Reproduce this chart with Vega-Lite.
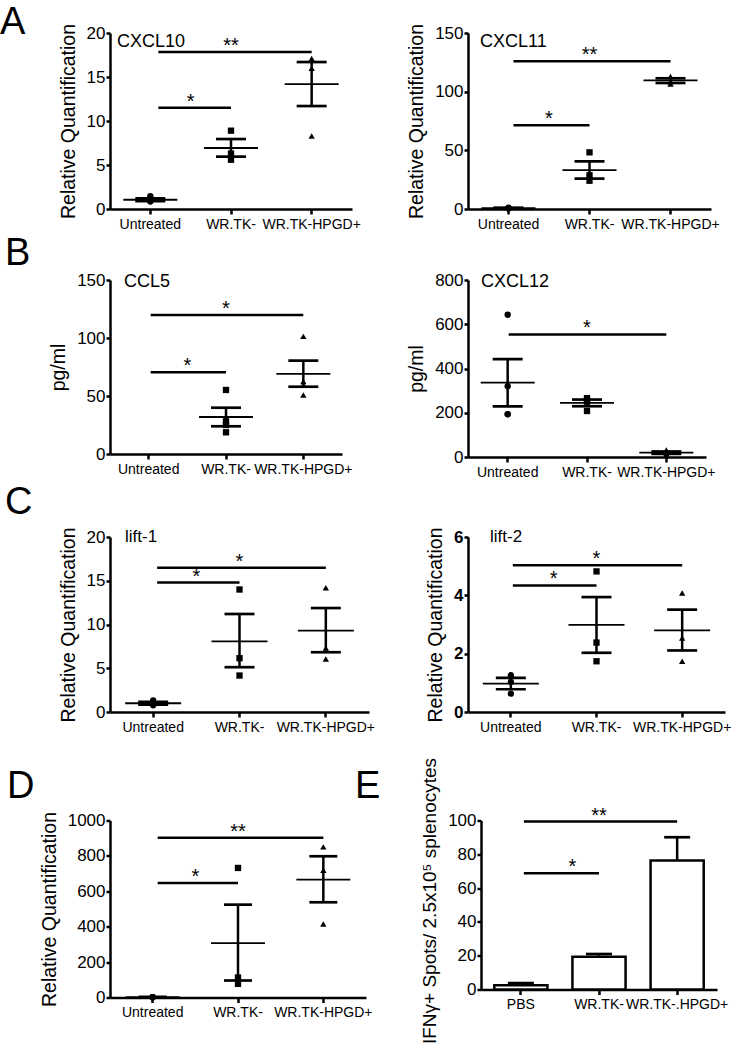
{
"$schema": "https://vega.github.io/schema/vega-lite/v6.json",
"background": "white",
"padding": {"left": 0, "top": 3, "right": 0, "bottom": 0},
"spacing": 22.5,
"datasets": {
"pts": [
{"panel":"CXCL10","grp":"Untreated","value":1.45},{"panel":"CXCL10","grp":"Untreated","value":0.85},{"panel":"CXCL10","grp":"Untreated","value":0.9},
{"panel":"CXCL10","grp":"WR.TK-","value":8.9},{"panel":"CXCL10","grp":"WR.TK-","value":6.3},{"panel":"CXCL10","grp":"WR.TK-","value":5.6},
{"panel":"CXCL10","grp":"WR.TK-HPGD+","value":17.1},{"panel":"CXCL10","grp":"WR.TK-HPGD+","value":16.0},{"panel":"CXCL10","grp":"WR.TK-HPGD+","value":8.3},
{"panel":"CXCL11","grp":"Untreated","value":1.2},{"panel":"CXCL11","grp":"Untreated","value":0.4},{"panel":"CXCL11","grp":"Untreated","value":0.8},
{"panel":"CXCL11","grp":"WR.TK-","value":48.3},{"panel":"CXCL11","grp":"WR.TK-","value":28.7},{"panel":"CXCL11","grp":"WR.TK-","value":24.1},
{"panel":"CXCL11","grp":"WR.TK-HPGD+","value":113},{"panel":"CXCL11","grp":"WR.TK-HPGD+","value":106.5},{"panel":"CXCL11","grp":"WR.TK-HPGD+","value":108.5},
{"panel":"CCL5","grp":"WR.TK-","value":55.2},{"panel":"CCL5","grp":"WR.TK-","value":28.2},{"panel":"CCL5","grp":"WR.TK-","value":25.0},{"panel":"CCL5","grp":"WR.TK-","value":18.7},
{"panel":"CCL5","grp":"WR.TK-HPGD+","value":101.4},{"panel":"CCL5","grp":"WR.TK-HPGD+","value":62.4},{"panel":"CCL5","grp":"WR.TK-HPGD+","value":59.5},{"panel":"CCL5","grp":"WR.TK-HPGD+","value":50.9},
{"panel":"CXCL12","grp":"Untreated","value":643},{"panel":"CXCL12","grp":"Untreated","value":320},{"panel":"CXCL12","grp":"Untreated","value":193},{"panel":"CXCL12","grp":"Untreated","value":194},
{"panel":"CXCL12","grp":"WR.TK-","value":266},{"panel":"CXCL12","grp":"WR.TK-","value":254},{"panel":"CXCL12","grp":"WR.TK-","value":208},{"panel":"CXCL12","grp":"WR.TK-","value":250},
{"panel":"CXCL12","grp":"WR.TK-HPGD+","value":16},{"panel":"CXCL12","grp":"WR.TK-HPGD+","value":8},{"panel":"CXCL12","grp":"WR.TK-HPGD+","value":32},{"panel":"CXCL12","grp":"WR.TK-HPGD+","value":22},
{"panel":"lift1","grp":"Untreated","value":1.33},{"panel":"lift1","grp":"Untreated","value":0.76},{"panel":"lift1","grp":"Untreated","value":0.95},
{"panel":"lift1","grp":"WR.TK-","value":14.0},{"panel":"lift1","grp":"WR.TK-","value":6.15},{"panel":"lift1","grp":"WR.TK-","value":4.17},
{"panel":"lift1","grp":"WR.TK-HPGD+","value":14.2},{"panel":"lift1","grp":"WR.TK-HPGD+","value":7.3},{"panel":"lift1","grp":"WR.TK-HPGD+","value":6.07},
{"panel":"lift2","grp":"Untreated","value":1.26},{"panel":"lift2","grp":"Untreated","value":1.03},{"panel":"lift2","grp":"Untreated","value":0.63},
{"panel":"lift2","grp":"WR.TK-","value":4.82},{"panel":"lift2","grp":"WR.TK-","value":2.38},{"panel":"lift2","grp":"WR.TK-","value":1.74},
{"panel":"lift2","grp":"WR.TK-HPGD+","value":4.08},{"panel":"lift2","grp":"WR.TK-HPGD+","value":2.54},{"panel":"lift2","grp":"WR.TK-HPGD+","value":1.74},
{"panel":"D","grp":"Untreated","value":2},{"panel":"D","grp":"Untreated","value":1.5},{"panel":"D","grp":"Untreated","value":2.5},
{"panel":"D","grp":"WR.TK-","value":732},{"panel":"D","grp":"WR.TK-","value":113},{"panel":"D","grp":"WR.TK-","value":77},
{"panel":"D","grp":"WR.TK-HPGD+","value":851},{"panel":"D","grp":"WR.TK-HPGD+","value":719},{"panel":"D","grp":"WR.TK-HPGD+","value":415}
],
"sum": [
{"panel":"CXCL10","grp":"Untreated","mean":1.05,"lo":0.9,"hi":1.2},{"panel":"CXCL10","grp":"WR.TK-","mean":6.93,"lo":5.95,"hi":7.95},{"panel":"CXCL10","grp":"WR.TK-HPGD+","mean":14.2,"lo":11.7,"hi":16.7},
{"panel":"CXCL11","grp":"Untreated","mean":0.8,"lo":0.4,"hi":1.1},{"panel":"CXCL11","grp":"WR.TK-","mean":33.2,"lo":25.9,"hi":40.6},{"panel":"CXCL11","grp":"WR.TK-HPGD+","mean":109.7,"lo":107.4,"hi":111.4},
{"panel":"CCL5","grp":"WR.TK-","mean":31.9,"lo":23.9,"hi":39.9},{"panel":"CCL5","grp":"WR.TK-HPGD+","mean":69.0,"lo":58.0,"hi":80.5},
{"panel":"CXCL12","grp":"Untreated","mean":336.6,"lo":229,"hi":442},{"panel":"CXCL12","grp":"WR.TK-","mean":244.5,"lo":229.4,"hi":259.6},{"panel":"CXCL12","grp":"WR.TK-HPGD+","mean":19.6,"lo":14,"hi":25},
{"panel":"lift1","grp":"Untreated","mean":1.0,"lo":0.85,"hi":1.15},{"panel":"lift1","grp":"WR.TK-","mean":8.08,"lo":5.12,"hi":11.2},{"panel":"lift1","grp":"WR.TK-HPGD+","mean":9.3,"lo":6.83,"hi":11.88},
{"panel":"lift2","grp":"Untreated","mean":0.97,"lo":0.78,"hi":1.17},{"panel":"lift2","grp":"WR.TK-","mean":2.99,"lo":2.03,"hi":3.94},{"panel":"lift2","grp":"WR.TK-HPGD+","mean":2.8,"lo":2.11,"hi":3.51},
{"panel":"D","grp":"Untreated","mean":2,"lo":1,"hi":3},{"panel":"D","grp":"WR.TK-","mean":307.5,"lo":96,"hi":524.5},{"panel":"D","grp":"WR.TK-HPGD+","mean":666,"lo":538,"hi":798}
],
"sig": [
{"panel":"CXCL10","from":"Untreated","to":"WR.TK-","y":11.5,"label":"*"},{"panel":"CXCL10","from":"Untreated","to":"WR.TK-HPGD+","y":17.85,"label":"**"},
{"panel":"CXCL11","from":"Untreated","to":"WR.TK-","y":71.3,"label":"*"},{"panel":"CXCL11","from":"Untreated","to":"WR.TK-HPGD+","y":125.9,"label":"**"},
{"panel":"CCL5","from":"Untreated","to":"WR.TK-","y":70.4,"label":"*"},{"panel":"CCL5","from":"Untreated","to":"WR.TK-HPGD+","y":119.8,"label":"*"},
{"panel":"CXCL12","from":"Untreated","to":"WR.TK-HPGD+","y":554,"label":"*"},
{"panel":"lift1","from":"Untreated","to":"WR.TK-","y":14.8,"label":"*"},{"panel":"lift1","from":"Untreated","to":"WR.TK-HPGD+","y":16.5,"label":"*"},
{"panel":"lift2","from":"Untreated","to":"WR.TK-","y":4.34,"label":"*"},{"panel":"lift2","from":"Untreated","to":"WR.TK-HPGD+","y":5.03,"label":"*"},
{"panel":"D","from":"Untreated","to":"WR.TK-","y":647,"label":"*"},{"panel":"D","from":"Untreated","to":"WR.TK-HPGD+","y":902,"label":"**"},
{"panel":"E","from":"PBS","to":"WR.TK-","y":68.8,"label":"*"},{"panel":"E","from":"PBS","to":"WR.TK-.HPGD+","y":99.4,"label":"**"}
],
"bars": [
{"grp":"PBS","value":2.5,"err":3.8},{"grp":"WR.TK-","value":19.4,"err":21},{"grp":"WR.TK-.HPGD+","value":76.3,"err":90.1}
],
"genes": [
{"panel":"CXCL10","label":"CXCL10"},{"panel":"CXCL11","label":"CXCL11"},{"panel":"CCL5","label":"CCL5"},{"panel":"CXCL12","label":"CXCL12"},{"panel":"lift1","label":"lift-1"},{"panel":"lift2","label":"lift-2"}
]
},
"vconcat": [
{"spacing": 4, "vconcat": [
{"title":{"text":"A","dx":-110,"offset":-18.5},"bounds":"flush","spacing":116,"hconcat":[
{"width":242,"height":176,"layer":[
{"data":{"name":"sig"},"transform":[{"filter":"datum.panel==='CXCL10'"}],"mark":{"type":"rule","color":"black","strokeWidth":2.5,"xOffset":8},"encoding":{"x":{"field":"from","type":"nominal","scale":{"type":"band","domain":["Untreated","WR.TK-","WR.TK-HPGD+"],"paddingInner":0,"paddingOuter":0},"axis":{"title":null}},"x2":{"field":"to"},"y":{"field":"y","type":"quantitative","scale":{"domain":[0,20],"nice":false},"axis":{"title":"Relative Quantification","values":[0,5,10,15,20],"tickCount":20,"format":"d","labelOverlap":false}}}},
{"data":{"name":"sig"},"transform":[{"filter":"datum.panel==='CXCL10' && datum.to==='WR.TK-'"}],"mark":{"type":"text","fontSize":20,"dy":0,"baseline":"alphabetic"},"encoding":{"x":{"field":"to","type":"nominal","bandPosition":0},"y":{"field":"y","type":"quantitative"},"text":{"field":"label"}}},
{"data":{"name":"sig"},"transform":[{"filter":"datum.panel==='CXCL10' && datum.to!=='WR.TK-'"}],"mark":{"type":"text","fontSize":20,"dy":0,"baseline":"alphabetic"},"encoding":{"x":{"datum":"WR.TK-","type":"nominal"},"y":{"field":"y","type":"quantitative"},"text":{"field":"label"}}},
{"data":{"name":"pts"},"transform":[{"filter":"datum.panel==='CXCL10'"}],"mark":{"type":"point","filled":true,"opacity":1,"color":"black","size":40},"encoding":{"x":{"field":"grp","type":"nominal"},"y":{"field":"value","type":"quantitative"},"shape":{"field":"grp","type":"nominal","scale":{"domain":["Untreated","WR.TK-","WR.TK-HPGD+"],"range":["circle","square","triangle-up"]},"legend":null}}},
{"data":{"name":"sum"},"transform":[{"filter":"datum.panel==='CXCL10'"}],"mark":{"type":"tick","color":"black","size":54,"thickness":1.8,"opacity":1},"encoding":{"x":{"field":"grp","type":"nominal"},"y":{"field":"mean","type":"quantitative"}}},
{"data":{"name":"sum"},"transform":[{"filter":"datum.panel==='CXCL10'"}],"mark":{"type":"rule","color":"black","strokeWidth":2.5},"encoding":{"x":{"field":"grp","type":"nominal"},"y":{"field":"lo","type":"quantitative"},"y2":{"field":"hi"}}},
{"data":{"name":"sum"},"transform":[{"filter":"datum.panel==='CXCL10'"}],"mark":{"type":"tick","color":"black","size":30,"thickness":2.7,"opacity":1},"encoding":{"x":{"field":"grp","type":"nominal"},"y":{"field":"lo","type":"quantitative"}}},
{"data":{"name":"sum"},"transform":[{"filter":"datum.panel==='CXCL10'"}],"mark":{"type":"tick","color":"black","size":30,"thickness":2.7,"opacity":1},"encoding":{"x":{"field":"grp","type":"nominal"},"y":{"field":"hi","type":"quantitative"}}},
{"data":{"name":"genes"},"transform":[{"filter":"datum.panel==='CXCL10'"}],"mark":{"type":"text","fontSize":18,"align":"left","baseline":"middle","dx":7,"dy":9},"encoding":{"x":{"datum":"Untreated","type":"nominal","bandPosition":0},"y":{"datum":20,"type":"quantitative"},"text":{"field":"label"}}}
]},
{"width":243,"height":176,"layer":[
{"data":{"name":"sig"},"transform":[{"filter":"datum.panel==='CXCL11'"}],"mark":{"type":"rule","color":"black","strokeWidth":2.5,"xOffset":5},"encoding":{"x":{"field":"from","type":"nominal","scale":{"type":"band","domain":["Untreated","WR.TK-","WR.TK-HPGD+"],"paddingInner":0,"paddingOuter":0},"axis":{"title":null}},"x2":{"field":"to"},"y":{"field":"y","type":"quantitative","scale":{"domain":[0,150],"nice":false},"axis":{"title":"Relative Quantification","values":[0,50,100,150],"tickCount":20,"format":"d","labelOverlap":false}}}},
{"data":{"name":"sig"},"transform":[{"filter":"datum.panel==='CXCL11' && datum.to==='WR.TK-'"}],"mark":{"type":"text","fontSize":20,"dy":0,"baseline":"alphabetic"},"encoding":{"x":{"field":"to","type":"nominal","bandPosition":0},"y":{"field":"y","type":"quantitative"},"text":{"field":"label"}}},
{"data":{"name":"sig"},"transform":[{"filter":"datum.panel==='CXCL11' && datum.to!=='WR.TK-'"}],"mark":{"type":"text","fontSize":20,"dy":0,"baseline":"alphabetic"},"encoding":{"x":{"datum":"WR.TK-","type":"nominal"},"y":{"field":"y","type":"quantitative"},"text":{"field":"label"}}},
{"data":{"name":"pts"},"transform":[{"filter":"datum.panel==='CXCL11'"}],"mark":{"type":"point","filled":true,"opacity":1,"color":"black","size":40},"encoding":{"x":{"field":"grp","type":"nominal"},"y":{"field":"value","type":"quantitative"},"shape":{"field":"grp","type":"nominal","scale":{"domain":["Untreated","WR.TK-","WR.TK-HPGD+"],"range":["circle","square","triangle-up"]},"legend":null}}},
{"data":{"name":"sum"},"transform":[{"filter":"datum.panel==='CXCL11'"}],"mark":{"type":"tick","color":"black","size":54,"thickness":1.8,"opacity":1},"encoding":{"x":{"field":"grp","type":"nominal"},"y":{"field":"mean","type":"quantitative"}}},
{"data":{"name":"sum"},"transform":[{"filter":"datum.panel==='CXCL11'"}],"mark":{"type":"rule","color":"black","strokeWidth":2.5},"encoding":{"x":{"field":"grp","type":"nominal"},"y":{"field":"lo","type":"quantitative"},"y2":{"field":"hi"}}},
{"data":{"name":"sum"},"transform":[{"filter":"datum.panel==='CXCL11'"}],"mark":{"type":"tick","color":"black","size":30,"thickness":2.7,"opacity":1},"encoding":{"x":{"field":"grp","type":"nominal"},"y":{"field":"lo","type":"quantitative"}}},
{"data":{"name":"sum"},"transform":[{"filter":"datum.panel==='CXCL11'"}],"mark":{"type":"tick","color":"black","size":30,"thickness":2.7,"opacity":1},"encoding":{"x":{"field":"grp","type":"nominal"},"y":{"field":"hi","type":"quantitative"}}},
{"data":{"name":"genes"},"transform":[{"filter":"datum.panel==='CXCL11'"}],"mark":{"type":"text","fontSize":18,"align":"left","baseline":"middle","dx":12,"dy":9},"encoding":{"x":{"datum":"Untreated","type":"nominal","bandPosition":0},"y":{"datum":150,"type":"quantitative"},"text":{"field":"label"}}}
]}
]},
{"title":{"text":"B","dx":-105,"offset":-2},"bounds":"flush","spacing":126,"hconcat":[
{"width":232,"height":174,"layer":[
{"data":{"name":"sig"},"transform":[{"filter":"datum.panel==='CCL5'"}],"mark":{"type":"rule","color":"black","strokeWidth":2.5,"xOffset":2},"encoding":{"x":{"field":"from","type":"nominal","scale":{"type":"band","domain":["Untreated","WR.TK-","WR.TK-HPGD+"],"paddingInner":0,"paddingOuter":0},"axis":{"title":null}},"x2":{"field":"to"},"y":{"field":"y","type":"quantitative","scale":{"domain":[0,150],"nice":false},"axis":{"title":"pg/ml","values":[0,50,100,150],"tickCount":20,"format":"d","labelOverlap":false}}}},
{"data":{"name":"sig"},"transform":[{"filter":"datum.panel==='CCL5' && datum.to==='WR.TK-'"}],"mark":{"type":"text","fontSize":20,"dy":0,"baseline":"alphabetic"},"encoding":{"x":{"field":"to","type":"nominal","bandPosition":0},"y":{"field":"y","type":"quantitative"},"text":{"field":"label"}}},
{"data":{"name":"sig"},"transform":[{"filter":"datum.panel==='CCL5' && datum.to!=='WR.TK-'"}],"mark":{"type":"text","fontSize":20,"dy":0,"baseline":"alphabetic"},"encoding":{"x":{"datum":"WR.TK-","type":"nominal"},"y":{"field":"y","type":"quantitative"},"text":{"field":"label"}}},
{"data":{"name":"pts"},"transform":[{"filter":"datum.panel==='CCL5'"}],"mark":{"type":"point","filled":true,"opacity":1,"color":"black","size":40},"encoding":{"x":{"field":"grp","type":"nominal"},"y":{"field":"value","type":"quantitative"},"shape":{"field":"grp","type":"nominal","scale":{"domain":["Untreated","WR.TK-","WR.TK-HPGD+"],"range":["circle","square","triangle-up"]},"legend":null}}},
{"data":{"name":"sum"},"transform":[{"filter":"datum.panel==='CCL5'"}],"mark":{"type":"tick","color":"black","size":54,"thickness":1.8,"opacity":1},"encoding":{"x":{"field":"grp","type":"nominal"},"y":{"field":"mean","type":"quantitative"}}},
{"data":{"name":"sum"},"transform":[{"filter":"datum.panel==='CCL5'"}],"mark":{"type":"rule","color":"black","strokeWidth":2.5},"encoding":{"x":{"field":"grp","type":"nominal"},"y":{"field":"lo","type":"quantitative"},"y2":{"field":"hi"}}},
{"data":{"name":"sum"},"transform":[{"filter":"datum.panel==='CCL5'"}],"mark":{"type":"tick","color":"black","size":30,"thickness":2.7,"opacity":1},"encoding":{"x":{"field":"grp","type":"nominal"},"y":{"field":"lo","type":"quantitative"}}},
{"data":{"name":"sum"},"transform":[{"filter":"datum.panel==='CCL5'"}],"mark":{"type":"tick","color":"black","size":30,"thickness":2.7,"opacity":1},"encoding":{"x":{"field":"grp","type":"nominal"},"y":{"field":"hi","type":"quantitative"}}},
{"data":{"name":"genes"},"transform":[{"filter":"datum.panel==='CCL5'"}],"mark":{"type":"text","fontSize":18,"align":"left","baseline":"middle","dx":14,"dy":2},"encoding":{"x":{"datum":"Untreated","type":"nominal","bandPosition":0},"y":{"datum":150,"type":"quantitative"},"text":{"field":"label"}}}
]},
{"width":238,"height":177,"layer":[
{"data":{"name":"sig"},"transform":[{"filter":"datum.panel==='CXCL12'"}],"mark":{"type":"rule","color":"black","strokeWidth":2.5,"xOffset":1},"encoding":{"x":{"field":"from","type":"nominal","scale":{"type":"band","domain":["Untreated","WR.TK-","WR.TK-HPGD+"],"paddingInner":0,"paddingOuter":0},"axis":{"title":null}},"x2":{"field":"to"},"y":{"field":"y","type":"quantitative","scale":{"domain":[0,800],"nice":false},"axis":{"title":"pg/ml","values":[0,200,400,600,800],"tickCount":20,"format":"d","labelOverlap":false}}}},
{"data":{"name":"sig"},"transform":[{"filter":"datum.panel==='CXCL12'"}],"mark":{"type":"text","fontSize":20,"dy":0,"baseline":"alphabetic"},"encoding":{"x":{"datum":"WR.TK-","type":"nominal"},"y":{"field":"y","type":"quantitative"},"text":{"field":"label"}}},
{"data":{"name":"pts"},"transform":[{"filter":"datum.panel==='CXCL12'"}],"mark":{"type":"point","filled":true,"opacity":1,"color":"black","size":40},"encoding":{"x":{"field":"grp","type":"nominal"},"y":{"field":"value","type":"quantitative"},"shape":{"field":"grp","type":"nominal","scale":{"domain":["Untreated","WR.TK-","WR.TK-HPGD+"],"range":["circle","square","triangle-up"]},"legend":null}}},
{"data":{"name":"sum"},"transform":[{"filter":"datum.panel==='CXCL12'"}],"mark":{"type":"tick","color":"black","size":54,"thickness":1.8,"opacity":1},"encoding":{"x":{"field":"grp","type":"nominal"},"y":{"field":"mean","type":"quantitative"}}},
{"data":{"name":"sum"},"transform":[{"filter":"datum.panel==='CXCL12'"}],"mark":{"type":"rule","color":"black","strokeWidth":2.5},"encoding":{"x":{"field":"grp","type":"nominal"},"y":{"field":"lo","type":"quantitative"},"y2":{"field":"hi"}}},
{"data":{"name":"sum"},"transform":[{"filter":"datum.panel==='CXCL12'"}],"mark":{"type":"tick","color":"black","size":30,"thickness":2.7,"opacity":1},"encoding":{"x":{"field":"grp","type":"nominal"},"y":{"field":"lo","type":"quantitative"}}},
{"data":{"name":"sum"},"transform":[{"filter":"datum.panel==='CXCL12'"}],"mark":{"type":"tick","color":"black","size":30,"thickness":2.7,"opacity":1},"encoding":{"x":{"field":"grp","type":"nominal"},"y":{"field":"hi","type":"quantitative"}}},
{"data":{"name":"genes"},"transform":[{"filter":"datum.panel==='CXCL12'"}],"mark":{"type":"text","fontSize":18,"align":"left","baseline":"middle","dx":13,"dy":2},"encoding":{"x":{"datum":"Untreated","type":"nominal","bandPosition":0},"y":{"datum":800,"type":"quantitative"},"text":{"field":"label"}}}
]}
]},
{"title":{"text":"C","dx":-105,"offset":5},"bounds":"flush","spacing":99,"hconcat":[
{"width":259,"height":175,"layer":[
{"data":{"name":"sig"},"transform":[{"filter":"datum.panel==='lift1'"}],"mark":{"type":"rule","color":"black","strokeWidth":2.5,"xOffset":4},"encoding":{"x":{"field":"from","type":"nominal","scale":{"type":"band","domain":["Untreated","WR.TK-","WR.TK-HPGD+"],"paddingInner":0,"paddingOuter":0},"axis":{"title":null}},"x2":{"field":"to"},"y":{"field":"y","type":"quantitative","scale":{"domain":[0,20],"nice":false},"axis":{"title":"Relative Quantification","values":[0,5,10,15,20],"tickCount":20,"format":"d","labelOverlap":false}}}},
{"data":{"name":"sig"},"transform":[{"filter":"datum.panel==='lift1' && datum.to==='WR.TK-'"}],"mark":{"type":"text","fontSize":20,"dy":0,"baseline":"alphabetic"},"encoding":{"x":{"field":"to","type":"nominal","bandPosition":0},"y":{"field":"y","type":"quantitative"},"text":{"field":"label"}}},
{"data":{"name":"sig"},"transform":[{"filter":"datum.panel==='lift1' && datum.to!=='WR.TK-'"}],"mark":{"type":"text","fontSize":20,"dy":0,"baseline":"alphabetic"},"encoding":{"x":{"datum":"WR.TK-","type":"nominal"},"y":{"field":"y","type":"quantitative"},"text":{"field":"label"}}},
{"data":{"name":"pts"},"transform":[{"filter":"datum.panel==='lift1'"}],"mark":{"type":"point","filled":true,"opacity":1,"color":"black","size":40},"encoding":{"x":{"field":"grp","type":"nominal"},"y":{"field":"value","type":"quantitative"},"shape":{"field":"grp","type":"nominal","scale":{"domain":["Untreated","WR.TK-","WR.TK-HPGD+"],"range":["circle","square","triangle-up"]},"legend":null}}},
{"data":{"name":"sum"},"transform":[{"filter":"datum.panel==='lift1'"}],"mark":{"type":"tick","color":"black","size":56,"thickness":1.8,"opacity":1},"encoding":{"x":{"field":"grp","type":"nominal"},"y":{"field":"mean","type":"quantitative"}}},
{"data":{"name":"sum"},"transform":[{"filter":"datum.panel==='lift1'"}],"mark":{"type":"rule","color":"black","strokeWidth":2.5},"encoding":{"x":{"field":"grp","type":"nominal"},"y":{"field":"lo","type":"quantitative"},"y2":{"field":"hi"}}},
{"data":{"name":"sum"},"transform":[{"filter":"datum.panel==='lift1'"}],"mark":{"type":"tick","color":"black","size":30,"thickness":2.7,"opacity":1},"encoding":{"x":{"field":"grp","type":"nominal"},"y":{"field":"lo","type":"quantitative"}}},
{"data":{"name":"sum"},"transform":[{"filter":"datum.panel==='lift1'"}],"mark":{"type":"tick","color":"black","size":30,"thickness":2.7,"opacity":1},"encoding":{"x":{"field":"grp","type":"nominal"},"y":{"field":"hi","type":"quantitative"}}},
{"data":{"name":"genes"},"transform":[{"filter":"datum.panel==='lift1'"}],"mark":{"type":"text","fontSize":17,"align":"left","baseline":"middle","dx":15,"dy":0},"encoding":{"x":{"datum":"Untreated","type":"nominal","bandPosition":0},"y":{"datum":20,"type":"quantitative"},"text":{"field":"label"}}}
]},
{"width":257,"height":175,"layer":[
{"data":{"name":"sig"},"transform":[{"filter":"datum.panel==='lift2'"}],"mark":{"type":"rule","color":"black","strokeWidth":2.5,"xOffset":2},"encoding":{"x":{"field":"from","type":"nominal","scale":{"type":"band","domain":["Untreated","WR.TK-","WR.TK-HPGD+"],"paddingInner":0,"paddingOuter":0},"axis":{"title":null}},"x2":{"field":"to"},"y":{"field":"y","type":"quantitative","scale":{"domain":[0,6],"nice":false},"axis":{"title":"Relative Quantification","values":[0,2,4,6],"tickCount":20,"format":"d","labelFontWeight":"bold","labelOverlap":false}}}},
{"data":{"name":"sig"},"transform":[{"filter":"datum.panel==='lift2' && datum.to==='WR.TK-'"}],"mark":{"type":"text","fontSize":20,"dy":0,"baseline":"alphabetic"},"encoding":{"x":{"field":"to","type":"nominal","bandPosition":0},"y":{"field":"y","type":"quantitative"},"text":{"field":"label"}}},
{"data":{"name":"sig"},"transform":[{"filter":"datum.panel==='lift2' && datum.to!=='WR.TK-'"}],"mark":{"type":"text","fontSize":20,"dy":0,"baseline":"alphabetic"},"encoding":{"x":{"datum":"WR.TK-","type":"nominal"},"y":{"field":"y","type":"quantitative"},"text":{"field":"label"}}},
{"data":{"name":"pts"},"transform":[{"filter":"datum.panel==='lift2'"}],"mark":{"type":"point","filled":true,"opacity":1,"color":"black","size":40},"encoding":{"x":{"field":"grp","type":"nominal"},"y":{"field":"value","type":"quantitative"},"shape":{"field":"grp","type":"nominal","scale":{"domain":["Untreated","WR.TK-","WR.TK-HPGD+"],"range":["circle","square","triangle-up"]},"legend":null}}},
{"data":{"name":"sum"},"transform":[{"filter":"datum.panel==='lift2'"}],"mark":{"type":"tick","color":"black","size":56,"thickness":1.8,"opacity":1},"encoding":{"x":{"field":"grp","type":"nominal"},"y":{"field":"mean","type":"quantitative"}}},
{"data":{"name":"sum"},"transform":[{"filter":"datum.panel==='lift2'"}],"mark":{"type":"rule","color":"black","strokeWidth":2.5},"encoding":{"x":{"field":"grp","type":"nominal"},"y":{"field":"lo","type":"quantitative"},"y2":{"field":"hi"}}},
{"data":{"name":"sum"},"transform":[{"filter":"datum.panel==='lift2'"}],"mark":{"type":"tick","color":"black","size":30,"thickness":2.7,"opacity":1},"encoding":{"x":{"field":"grp","type":"nominal"},"y":{"field":"lo","type":"quantitative"}}},
{"data":{"name":"sum"},"transform":[{"filter":"datum.panel==='lift2'"}],"mark":{"type":"tick","color":"black","size":30,"thickness":2.7,"opacity":1},"encoding":{"x":{"field":"grp","type":"nominal"},"y":{"field":"hi","type":"quantitative"}}},
{"data":{"name":"genes"},"transform":[{"filter":"datum.panel==='lift2'"}],"mark":{"type":"text","fontSize":17,"align":"left","baseline":"middle","dx":22,"dy":0},"encoding":{"x":{"datum":"Untreated","type":"nominal","bandPosition":0},"y":{"datum":6,"type":"quantitative"},"text":{"field":"label"}}}
]}
]}
]},
{"title":{"text":"D","dx":-103,"offset":-49},"bounds":"flush","spacing":115,"hconcat":[
{"width":256,"height":177,"layer":[
{"data":{"name":"sig"},"transform":[{"filter":"datum.panel==='D'"}],"mark":{"type":"rule","color":"black","strokeWidth":2.5,"xOffset":5},"encoding":{"x":{"field":"from","type":"nominal","scale":{"type":"band","domain":["Untreated","WR.TK-","WR.TK-HPGD+"],"paddingInner":0,"paddingOuter":0},"axis":{"title":null}},"x2":{"field":"to"},"y":{"field":"y","type":"quantitative","scale":{"domain":[0,1000],"nice":false},"axis":{"title":"Relative Quantification","values":[0,200,400,600,800,1000],"tickCount":20,"format":"d","labelOverlap":false}}}},
{"data":{"name":"sig"},"transform":[{"filter":"datum.panel==='D' && datum.to==='WR.TK-'"}],"mark":{"type":"text","fontSize":20,"dy":0,"baseline":"alphabetic"},"encoding":{"x":{"field":"to","type":"nominal","bandPosition":0},"y":{"field":"y","type":"quantitative"},"text":{"field":"label"}}},
{"data":{"name":"sig"},"transform":[{"filter":"datum.panel==='D' && datum.to!=='WR.TK-'"}],"mark":{"type":"text","fontSize":20,"dy":0,"baseline":"alphabetic"},"encoding":{"x":{"datum":"WR.TK-","type":"nominal"},"y":{"field":"y","type":"quantitative"},"text":{"field":"label"}}},
{"data":{"name":"pts"},"transform":[{"filter":"datum.panel==='D'"}],"mark":{"type":"point","filled":true,"opacity":1,"color":"black","size":40},"encoding":{"x":{"field":"grp","type":"nominal"},"y":{"field":"value","type":"quantitative"},"shape":{"field":"grp","type":"nominal","scale":{"domain":["Untreated","WR.TK-","WR.TK-HPGD+"],"range":["circle","square","triangle-up"]},"legend":null}}},
{"data":{"name":"sum"},"transform":[{"filter":"datum.panel==='D'"}],"mark":{"type":"tick","color":"black","size":54,"thickness":1.8,"opacity":1},"encoding":{"x":{"field":"grp","type":"nominal"},"y":{"field":"mean","type":"quantitative"}}},
{"data":{"name":"sum"},"transform":[{"filter":"datum.panel==='D'"}],"mark":{"type":"rule","color":"black","strokeWidth":2.5},"encoding":{"x":{"field":"grp","type":"nominal"},"y":{"field":"lo","type":"quantitative"},"y2":{"field":"hi"}}},
{"data":{"name":"sum"},"transform":[{"filter":"datum.panel==='D'"}],"mark":{"type":"tick","color":"black","size":28,"thickness":2.7,"opacity":1},"encoding":{"x":{"field":"grp","type":"nominal"},"y":{"field":"lo","type":"quantitative"}}},
{"data":{"name":"sum"},"transform":[{"filter":"datum.panel==='D'"}],"mark":{"type":"tick","color":"black","size":28,"thickness":2.7,"opacity":1},"encoding":{"x":{"field":"grp","type":"nominal"},"y":{"field":"hi","type":"quantitative"}}}
]},
{"width":236,"height":169,"title":{"text":"E","dx":-126,"offset":-49},"layer":[
{"data":{"name":"bars"},"mark":{"type":"bar","fill":"white","stroke":"black","strokeWidth":2.5},"encoding":{"x":{"field":"grp","type":"nominal","scale":{"type":"band","domain":["PBS","WR.TK-","WR.TK-.HPGD+"],"paddingInner":0.32,"paddingOuter":0.17},"axis":{"title":null}},"y":{"field":"value","type":"quantitative","scale":{"domain":[0,100],"nice":false},"axis":{"title":"IFNγ+ Spots/ 2.5x10⁵ splenocytes","titleFontSize":19,"titleY":80,"values":[0,20,40,60,80,100],"tickCount":20,"format":"d","labelOverlap":false}}}},
{"data":{"name":"bars"},"mark":{"type":"rule","color":"black","strokeWidth":2.5},"encoding":{"x":{"field":"grp","type":"nominal"},"y":{"field":"value","type":"quantitative"},"y2":{"field":"err"}}},
{"data":{"name":"bars"},"mark":{"type":"tick","color":"black","size":26,"thickness":2.7,"opacity":1},"encoding":{"x":{"field":"grp","type":"nominal"},"y":{"field":"err","type":"quantitative"}}},
{"data":{"name":"sig"},"transform":[{"filter":"datum.panel==='E'"}],"mark":{"type":"rule","color":"black","strokeWidth":2.5,"xOffset":3},"encoding":{"x":{"field":"from","type":"nominal"},"x2":{"field":"to"},"y":{"field":"y","type":"quantitative"}}},
{"data":{"name":"sig"},"transform":[{"filter":"datum.panel==='E' && datum.to==='WR.TK-'"}],"mark":{"type":"text","fontSize":20,"dy":0,"baseline":"alphabetic"},"encoding":{"x":{"field":"to","type":"nominal","bandPosition":0},"y":{"field":"y","type":"quantitative"},"text":{"field":"label"}}},
{"data":{"name":"sig"},"transform":[{"filter":"datum.panel==='E' && datum.to!=='WR.TK-'"}],"mark":{"type":"text","fontSize":20,"dy":0,"baseline":"alphabetic"},"encoding":{"x":{"datum":"WR.TK-","type":"nominal"},"y":{"field":"y","type":"quantitative"},"text":{"field":"label"}}}
]}
]}
],
"config": {
"font": "Liberation Sans",
"view": {"stroke": null},
"axis": {"domainColor":"black","domainWidth":2.5,"tickColor":"black","tickWidth":2.5,"labelColor":"black","titleColor":"black","labelFont":"Liberation Sans","titleFont":"Liberation Sans","titleFontWeight":"normal","grid":false,"labelOverlap":false},
"axisX": {"labelAngle":0,"labelFontSize":14,"tickSize":5,"labelPadding":3},
"axisY": {"labelFontSize":17,"tickSize":4,"labelPadding":1,"titleFontSize":19.5,"titlePadding":8},
"title": {"font":"Liberation Sans","fontSize":38,"fontWeight":"normal","color":"black","anchor":"start","frame":"group"},
"text": {"font":"Liberation Sans","color":"black"}
}
}
